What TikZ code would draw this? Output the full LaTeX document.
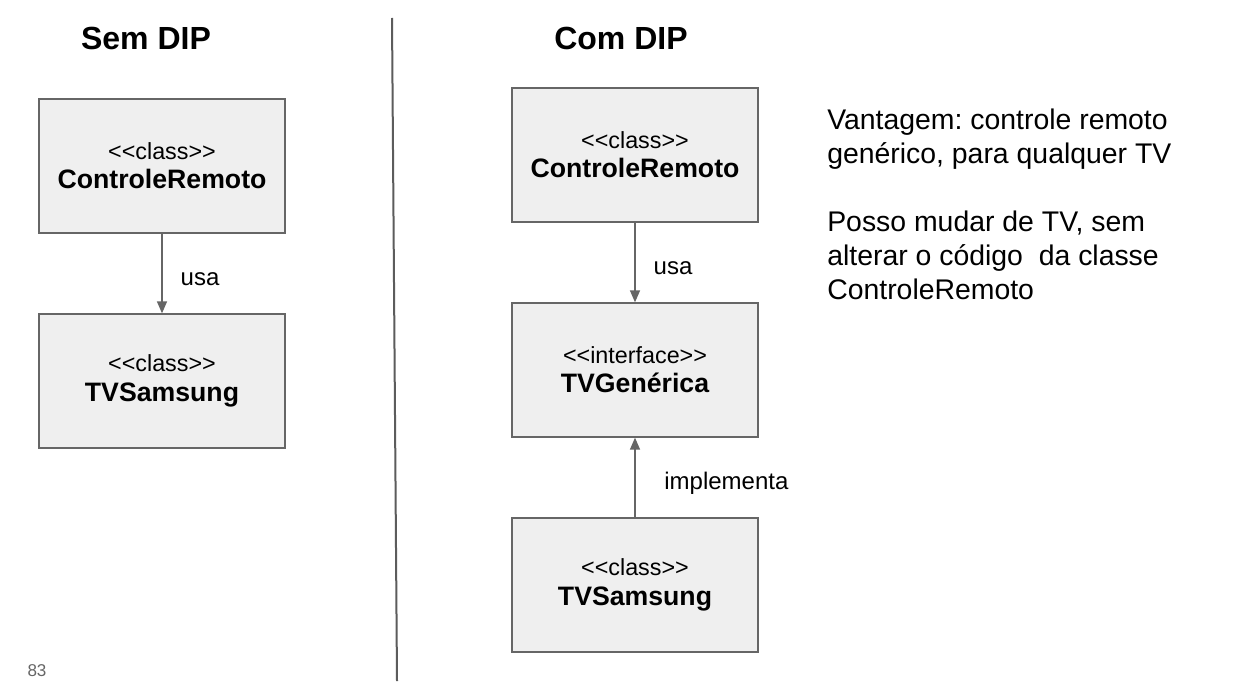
\documentclass[tikz,border=0pt]{standalone}
\usepackage{fontspec}
\setmainfont{Liberation Sans}[Ligatures=TeXOff]
\usetikzlibrary{arrows.meta,positioning}
\definecolor{boxgray}{RGB}{239, 239, 239}
\definecolor{linegray}{RGB}{102, 102, 102}
\frenchspacing

\begin{document}
\begin{tikzpicture}[x=0.75pt, y=-0.75pt,
    umlbox/.style={draw=linegray, line width=1pt, fill=boxgray, align=center,
                   minimum width=184.5pt, minimum height=100.5pt,
                   font=\fontsize{17.5}{22}\selectfont},
    seta/.style={draw=linegray, line width=1.1pt, -{Triangle[length=9pt,width=7.5pt]}},
    lbl/.style={inner sep=0pt, anchor=west, font=\fontsize{18}{22}\selectfont},
    titulo/.style={font=\fontsize{24}{28}\selectfont\bfseries}]
    \useasboundingbox (0,0) rectangle (1255,681);
    \fill[white] (0,0) rectangle (1255,681);

    % titulos
    \node[titulo] (sem) at (146,38) {Sem DIP};
    \node[titulo] (com) at (621,38) {Com DIP};

    % divisoria
    \draw[linegray!90!black, line width=1.5pt] (392,18) -- (397,681);

    % sem DIP
    \node[umlbox] (crL) at (162,166) {<<class>>\\{\fontsize{20}{22}\selectfont\bfseries ControleRemoto}};
    \node[umlbox] (tvL) at (162,381) {<<class>>\\{\fontsize{20}{22}\selectfont\bfseries TVSamsung}};
    \draw[seta] (crL) -- node[lbl, right=13.5pt, yshift=-4.5pt] {usa} (tvL);

    % com DIP
    \node[umlbox] (crR) at (635,155) {<<class>>\\{\fontsize{20}{22}\selectfont\bfseries ControleRemoto}};
    \node[umlbox] (tvG) at (635,370) {<<interface>>\\{\fontsize{20}{22}\selectfont\bfseries TVGenérica}};
    \node[umlbox] (tvR) at (635,585) {<<class>>\\{\fontsize{20}{22}\selectfont\bfseries TVSamsung}};
    \draw[seta] (crR) -- node[lbl, right=13.5pt, yshift=-4.5pt] {usa} (tvG);
    \draw[seta] (tvR) -- node[lbl, right=21.5pt, yshift=-4.5pt] {implementa} (tvG);

    % texto lateral
    \node[anchor=north west, inner sep=0pt, align=left,
          font=\fontsize{21.3}{25.4}\selectfont] (nota) at (827,109)
        {Vantagem: controle remoto\\genérico, para qualquer TV\\[25.4pt]
         Posso mudar de TV, sem\\alterar o código\ \ da classe\\ControleRemoto};

    % pagina
    \node[text=linegray, font=\fontsize{12.8}{15}\selectfont] (pag) at (37,671) {83};
\end{tikzpicture}
\end{document}
